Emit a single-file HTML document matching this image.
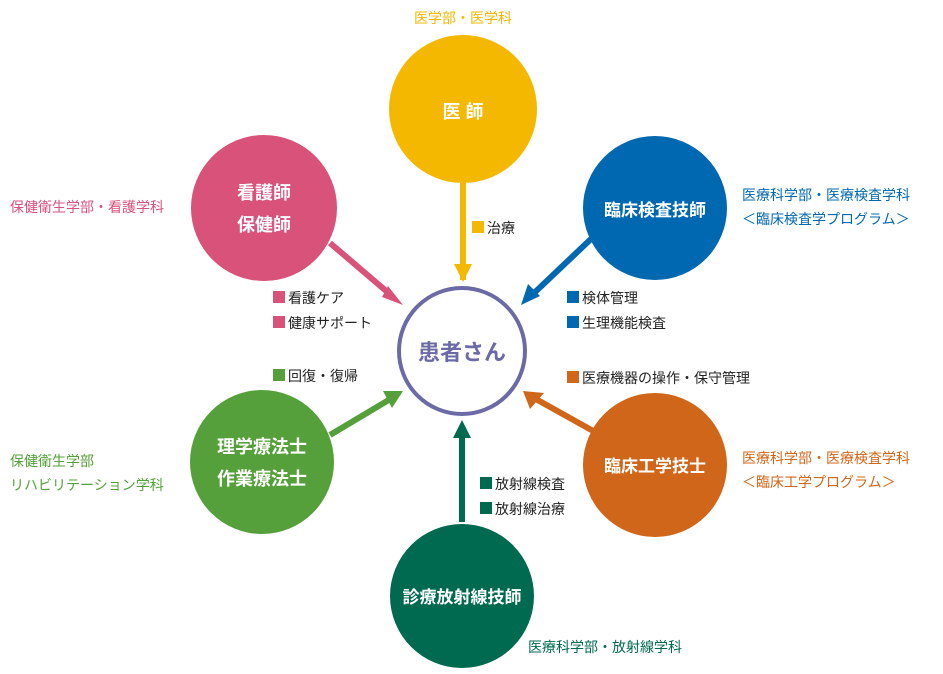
<!DOCTYPE html>
<html><head><meta charset="utf-8"><style>
body{margin:0;background:#fff;}
svg text{font-family:"Liberation Sans","Noto Sans CJK JP",sans-serif;}
</style></head><body>
<svg width="943" height="669" viewBox="0 0 943 669" xmlns="http://www.w3.org/2000/svg">
<defs>
<marker id="a" viewBox="0 0 10 10" refX="9" refY="5" markerWidth="3" markerHeight="3" orient="auto"><path d="M0 0L10 5L0 10z" fill="context-stroke"/></marker>
</defs>
<g stroke-width="6" fill="none">
<line x1="463" y1="183" x2="463" y2="280" stroke="#f5b800"/>
<path d="M454 264L463 282L472 264z" fill="#f5b800" stroke="none"/>
<line x1="330" y1="243" x2="392" y2="296" stroke="#d9527a"/>
<path d="M388 286L403 305L382 297z" fill="#d9527a" stroke="none"/>
<line x1="592" y1="238" x2="532" y2="295" stroke="#0068b0"/>
<path d="M528 284L521 305L540 296z" fill="#0068b0" stroke="none"/>
<line x1="595" y1="432" x2="534" y2="398" stroke="#d0661a"/>
<path d="M530 409L523 391L544 393z" fill="#d0661a" stroke="none"/>
<line x1="330" y1="435" x2="392" y2="398" stroke="#55a03a"/>
<path d="M383 391L403 391L392 408z" fill="#55a03a" stroke="none"/>
<line x1="462" y1="522" x2="462" y2="432" stroke="#006a50"/>
<path d="M453 438L462 420L471 438z" fill="#006a50" stroke="none"/>
</g>
<circle cx="462" cy="351" r="63" fill="#fff" stroke="#6b6aa6" stroke-width="4"/>
<text x="462" y="360" text-anchor="middle" font-size="22" font-weight="bold" fill="#6b6aa6">患者さん</text>
<circle cx="463" cy="109" r="74" fill="#f5b800"/>
<text x="463" y="118" text-anchor="middle" font-size="18" font-weight="bold" fill="#fff">医 師</text>
<circle cx="264" cy="208" r="73" fill="#d9527a"/>
<text x="264" y="199" text-anchor="middle" font-size="18" font-weight="bold" fill="#fff">看護師</text>
<text x="264" y="231" text-anchor="middle" font-size="18" font-weight="bold" fill="#fff">保健師</text>
<circle cx="655" cy="208" r="72" fill="#0068b0"/>
<text x="655" y="216" text-anchor="middle" font-size="17" font-weight="bold" fill="#fff">臨床検査技師</text>
<circle cx="655" cy="465" r="72" fill="#d0661a"/>
<text x="655" y="472" text-anchor="middle" font-size="17" font-weight="bold" fill="#fff">臨床工学技士</text>
<circle cx="262" cy="462" r="72" fill="#55a03a"/>
<text x="262" y="453" text-anchor="middle" font-size="18" font-weight="bold" fill="#fff">理学療法士</text>
<text x="262" y="485" text-anchor="middle" font-size="18" font-weight="bold" fill="#fff">作業療法士</text>
<circle cx="462" cy="596" r="72" fill="#006a50"/>
<text x="462" y="603" text-anchor="middle" font-size="17" font-weight="bold" fill="#fff">診療放射線技師</text>
<g font-size="14">
<text x="463" y="23" text-anchor="middle" fill="#f5b800">医学部・医学科</text>
<text x="10" y="212" fill="#d9527a">保健衛生学部・看護学科</text>
<text x="742" y="200" fill="#0068b0">医療科学部・医療検査学科</text>
<text x="742" y="224" fill="#0068b0">＜臨床検査学プログラム＞</text>
<text x="742" y="463" fill="#d0661a">医療科学部・医療検査学科</text>
<text x="742" y="487" fill="#d0661a">＜臨床工学プログラム＞</text>
<text x="10" y="466" fill="#55a03a">保健衛生学部</text>
<text x="10" y="490" fill="#55a03a">リハビリテーション学科</text>
<text x="528" y="652" fill="#006a50">医療科学部・放射線学科</text>
</g>
<g font-size="14" fill="#222">
<rect x="472" y="221" width="12" height="12" fill="#f5b800"/><text x="487" y="233">治療</text>
<rect x="273" y="291" width="12" height="12" fill="#d9527a"/><text x="288" y="303">看護ケア</text>
<rect x="273" y="316" width="12" height="12" fill="#d9527a"/><text x="288" y="328">健康サポート</text>
<rect x="567" y="291" width="12" height="12" fill="#0068b0"/><text x="582" y="303">検体管理</text>
<rect x="567" y="316" width="12" height="12" fill="#0068b0"/><text x="582" y="328">生理機能検査</text>
<rect x="273" y="369" width="12" height="12" fill="#55a03a"/><text x="288" y="381">回復・復帰</text>
<rect x="567" y="371" width="12" height="12" fill="#d0661a"/><text x="582" y="383">医療機器の操作・保守管理</text>
<rect x="480" y="477" width="12" height="12" fill="#006a50"/><text x="495" y="489">放射線検査</text>
<rect x="480" y="502" width="12" height="12" fill="#006a50"/><text x="495" y="514">放射線治療</text>
</g>
</svg>
</body></html>
